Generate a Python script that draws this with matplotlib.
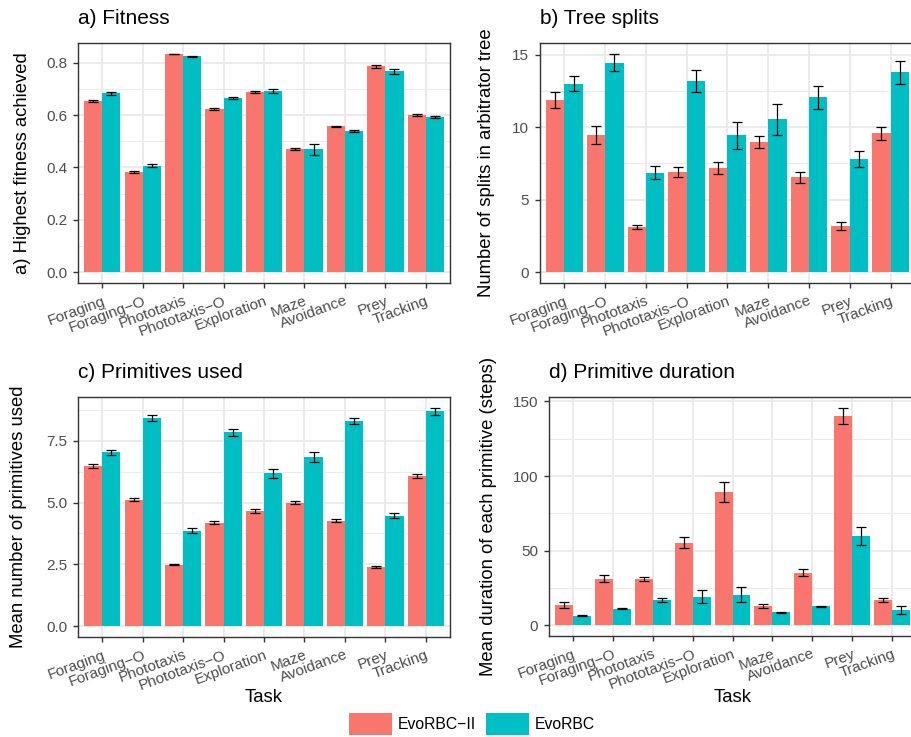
import matplotlib
matplotlib.use("Agg")
import matplotlib.pyplot as plt
import numpy as np
from matplotlib.patches import Patch
from matplotlib.ticker import MultipleLocator, FormatStrFormatter

C_II, C_RBC = "#F8766D", "#00BFC4"
INK, BORDER, TICKTXT, GRID = "#000000", "#333333", "#4D4D4D", "#EBEBEB"

plt.rcParams.update({
    "font.family": ["Liberation Sans", "DejaVu Sans"],
    "figure.dpi": 100,
})

tasks = ["Foraging", "Foraging−O", "Phototaxis", "Phototaxis−O", "Exploration",
         "Maze", "Avoidance", "Prey", "Tracking"]
methods = ["EvoRBC−II", "EvoRBC"]

# a) fitness
fit_ii = [0.654, 0.383, 0.833, 0.623, 0.688, 0.470, 0.557, 0.786, 0.599]
fit_ii_err = [0.004, 0.005, 0.001, 0.004, 0.004, 0.004, 0.002, 0.005, 0.004]
fit_rbc = [0.683, 0.406, 0.825, 0.665, 0.692, 0.470, 0.538, 0.768, 0.593]
fit_rbc_err = [0.006, 0.006, 0.002, 0.005, 0.006, 0.021, 0.004, 0.010, 0.005]

# b) tree splits
spl_ii = [11.85, 9.44, 3.11, 6.90, 7.18, 8.96, 6.54, 3.18, 9.56]
spl_ii_err = [0.54, 0.62, 0.17, 0.35, 0.43, 0.41, 0.37, 0.25, 0.42]
spl_rbc = [13.0, 14.45, 6.84, 13.2, 9.44, 10.54, 12.05, 7.80, 13.77]
spl_rbc_err = [0.54, 0.60, 0.45, 0.75, 0.93, 1.05, 0.78, 0.57, 0.77]

# c) primitives used
prim_ii = [6.47, 5.12, 2.49, 4.18, 4.65, 5.00, 4.27, 2.41, 6.07]
prim_ii_err = [0.09, 0.07, 0.03, 0.06, 0.07, 0.07, 0.06, 0.04, 0.07]
prim_rbc = [7.03, 8.41, 3.86, 7.84, 6.18, 6.84, 8.30, 4.47, 8.69]
prim_rbc_err = [0.10, 0.13, 0.09, 0.15, 0.17, 0.20, 0.14, 0.11, 0.14]

# d) primitive duration
dur_ii = [13.4, 31.2, 31.2, 55.2, 89.2, 12.9, 35.2, 140.4, 17.1]
dur_ii_err = [1.9, 2.4, 1.4, 3.8, 6.7, 1.1, 2.4, 5.3, 1.4]
dur_rbc = [6.2, 10.9, 16.9, 19.1, 20.5, 8.5, 12.5, 59.9, 10.2]
dur_rbc_err = [0.4, 0.4, 1.3, 4.5, 4.8, 0.3, 0.3, 5.9, 2.4]


def panel(ax, ii, ii_err, rbc, rbc_err, title, ylabel, step, fmt,
          ylab_x, xlabel=None, xlab_y=None):
    x = np.arange(len(tasks))
    for off, vals, errs, col in ((-0.225, ii, ii_err, C_II),
                                 (0.225, rbc, rbc_err, C_RBC)):
        ax.bar(x + off, vals, width=0.45, color=col, zorder=2, linewidth=0)
        ax.errorbar(x + off, vals, yerr=errs, fmt="none", ecolor=INK,
                    elinewidth=0.9, capsize=3.3, capthick=0.9, zorder=3)
    top = max(np.max(np.add(ii, ii_err)), np.max(np.add(rbc, rbc_err)))
    ax.set_ylim(-0.05 * top, 1.05 * top)
    ax.set_xlim(-0.6, len(tasks) - 0.4)
    ax.set_xticks(x)
    ax.set_xticklabels(tasks, rotation=20, ha="right", va="top",
                       rotation_mode="anchor")
    ax.yaxis.set_major_locator(MultipleLocator(step))
    ax.yaxis.set_minor_locator(MultipleLocator(step / 2))
    ax.yaxis.set_major_formatter(FormatStrFormatter(fmt))
    ax.set_axisbelow(True)
    ax.grid(which="major", color=GRID, lw=1.5)
    ax.grid(which="minor", axis="y", color=GRID, lw=0.75)
    ax.tick_params(which="major", length=3.3, width=1.0, color=BORDER,
                   labelcolor=TICKTXT, labelsize=11, pad=4.5)
    ax.tick_params(which="minor", length=0)
    for s in ax.spines.values():
        s.set_color(BORDER)
        s.set_linewidth(1.0)
    ax.set_title(title, loc="left", fontsize=15, pad=14)
    ax.set_ylabel(ylabel, fontsize=13.3)
    ax.yaxis.set_label_coords(ylab_x, 0.5)
    if xlabel:
        ax.set_xlabel(xlabel, fontsize=13.3)
        ax.xaxis.set_label_coords(0.5, xlab_y)


fig = plt.figure(figsize=(9.11, 7.37))
W, H = 911, 737


def add_axes(left, right, top, bottom):
    return fig.add_axes([left / W, 1 - bottom / H, (right - left) / W,
                         (bottom - top) / H])


ax_a = add_axes(78, 450, 43, 283)
ax_b = add_axes(540, 915, 43, 283)
ax_c = add_axes(78, 450, 397, 637)
ax_d = add_axes(549, 916, 397, 636)

panel(ax_a, fit_ii, fit_ii_err, fit_rbc, fit_rbc_err, "a) Fitness",
      "a) Highest fitness achieved", 0.2, "%.1f", -0.125)
panel(ax_b, spl_ii, spl_ii_err, spl_rbc, spl_rbc_err, "b) Tree splits",
      "Number of splits in arbitrator tree", 5, "%d", -0.12)
panel(ax_c, prim_ii, prim_ii_err, prim_rbc, prim_rbc_err, "c) Primitives used",
      "Mean number of primitives used", 2.5, "%.1f", -0.136,
      xlabel="Task", xlab_y=-0.215)
panel(ax_d, dur_ii, dur_ii_err, dur_rbc, dur_rbc_err, "d) Primitive duration",
      "Mean duration of each primitive (steps)", 50, "%d", -0.142,
      xlabel="Task", xlab_y=-0.22)

handles = [Patch(facecolor=C_II, edgecolor="none"),
           Patch(facecolor=C_RBC, edgecolor="none")]
fig.legend(handles, methods, loc="center", bbox_to_anchor=(472 / W, 1 - 724 / H),
           ncol=2, frameon=False, fontsize=11.3, handlelength=2.75,
           handleheight=1.7, handletextpad=0.4, columnspacing=0.6,
           borderpad=0, borderaxespad=0)

fig.savefig("out.png", dpi=100)
